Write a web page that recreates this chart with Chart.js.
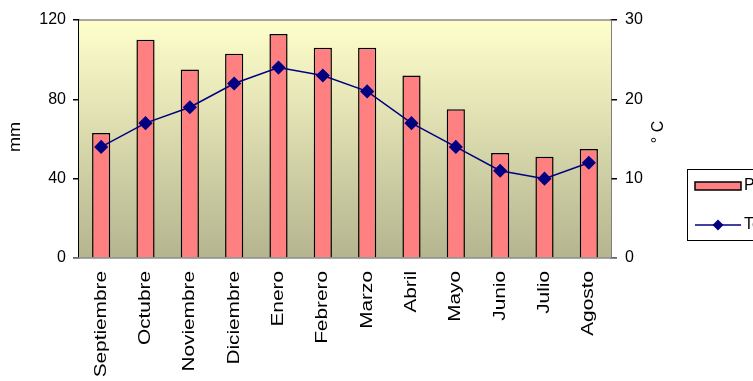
<!DOCTYPE html>
<html>
<head>
<meta charset="utf-8">
<script src="https://cdn.jsdelivr.net/npm/chart.js@4/dist/chart.umd.min.js"></script>
<style>
  html, body { margin: 0; padding: 0; background: #fff; overflow: hidden; }
  #wrap { position: relative; width: 753px; height: 381px; }
</style>
</head>
<body>
<div id="wrap"><canvas id="climaChart"></canvas></div>
<script>
const meses = ['Septiembre', 'Octubre', 'Noviembre', 'Diciembre', 'Enero', 'Febrero',
               'Marzo', 'Abril', 'Mayo', 'Junio', 'Julio', 'Agosto'];
const precipitacion = [63, 110, 95, 103, 113, 106, 106, 92, 75, 53, 51, 55];
const temperatura = [14, 17, 19, 22, 24, 23, 21, 17, 14, 11, 10, 12];
const ticksMm = [0, 40, 80, 120];
const ticksC = [0, 10, 20, 30];

const fuente = '"Liberation Sans", Arial, sans-serif';

// texto girado 90° (se lee de abajo a arriba), estirado a lo largo
function textoVertical(ctx, t, x, y, align, estirar) {
    ctx.save();
    ctx.translate(x, y);
    ctx.rotate(-Math.PI / 2);
    ctx.scale(estirar, 1);
    ctx.textAlign = align;
    ctx.textBaseline = 'middle';
    ctx.fillText(t, 0, 0);
    ctx.restore();
}

// fondo degradado del área de trazado y bordes grises arriba/abajo
const fondoPlugin = {
    id: 'fondo',
    beforeDatasetsDraw(chart) {
        const { ctx, chartArea: a } = chart;
        const g = ctx.createLinearGradient(0, a.top, 0, a.bottom);
        g.addColorStop(0, '#ffffcc');
        g.addColorStop(1, '#b4b48f');
        ctx.save();
        ctx.fillStyle = g;
        ctx.fillRect(a.left, a.top, a.right - a.left, a.bottom - a.top);
        ctx.strokeStyle = '#8c8c8c';
        ctx.lineWidth = 1.5;
        ctx.beginPath();
        ctx.moveTo(a.left, a.top);
        ctx.lineTo(a.right, a.top);
        ctx.moveTo(a.left - 6, a.bottom);
        ctx.lineTo(a.right + 6, a.bottom);
        ctx.stroke();
        ctx.restore();
    }
};

// etiquetas de meses, títulos de ejes y leyenda
const extrasPlugin = {
    id: 'extras',
    afterDraw(chart) {
        const { ctx } = chart;
        const x = chart.scales.x;
        ctx.save();
        ctx.fillStyle = '#000';
        ctx.font = '16px ' + fuente;

        meses.forEach((m, i) => {
            textoVertical(ctx, m, x.getPixelForValue(i), chart.chartArea.bottom + 13, 'right', 1.3);
        });

        textoVertical(ctx, 'mm', 16, 137, 'center', 1.13);
        textoVertical(ctx, '° C', 659, 132, 'center', 1);

        // caja de la leyenda
        ctx.strokeStyle = '#000';
        ctx.lineWidth = 1;
        ctx.strokeRect(687.5, 169.5, 120, 71);

        const dsBar = chart.data.datasets[0];
        const dsLine = chart.data.datasets[1];
        ctx.fillStyle = dsBar.backgroundColor;
        ctx.fillRect(695, 182, 46, 8);
        ctx.lineWidth = 1.5;
        ctx.strokeStyle = dsBar.borderColor;
        ctx.strokeRect(695, 182, 46, 8);

        ctx.strokeStyle = dsLine.borderColor;
        ctx.lineWidth = 1.5;
        ctx.beginPath();
        ctx.moveTo(695, 225);
        ctx.lineTo(741, 225);
        ctx.stroke();
        ctx.fillStyle = dsLine.pointBackgroundColor;
        ctx.beginPath();
        ctx.moveTo(718, 219.5);
        ctx.lineTo(723.5, 225);
        ctx.lineTo(718, 230.5);
        ctx.lineTo(712.5, 225);
        ctx.closePath();
        ctx.fill();

        ctx.fillStyle = '#000';
        ctx.textAlign = 'left';
        ctx.textBaseline = 'middle';
        ctx.fillText(dsBar.label, 744, 186);
        ctx.fillText(dsLine.label, 744, 225);
        ctx.restore();
    }
};

new Chart(document.getElementById('climaChart'), {
    data: {
        labels: meses,
        datasets: [
            {
                type: 'bar',
                label: 'Precipitación',
                data: precipitacion,
                yAxisID: 'yMm',
                backgroundColor: '#ff8080',
                borderColor: '#000000',
                borderWidth: 1.5,
                barPercentage: 0.41,
                categoryPercentage: 1,
                order: 1
            },
            {
                type: 'line',
                label: 'Temperatura',
                data: temperatura,
                yAxisID: 'yC',
                borderColor: '#000080',
                borderWidth: 1.5,
                pointStyle: 'rectRot',
                pointRadius: 6,
                pointBackgroundColor: '#000080',
                pointBorderColor: '#000080',
                tension: 0,
                order: 0
            }
        ]
    },
    options: {
        responsive: true,
        maintainAspectRatio: false,
        animation: false,
        layout: { padding: { top: 20, left: 0, right: 0, bottom: 0 } },
        plugins: {
            legend: { display: false },
            tooltip: { enabled: false }
        },
        scales: {
            x: {
                grid: { display: false, drawTicks: false },
                border: { display: false },
                ticks: { display: false },
                afterFit(scale) { scale.height = 123; }
            },
            yMm: {
                position: 'left',
                min: 0,
                max: 120,
                afterBuildTicks(scale) { scale.ticks = ticksMm.map(v => ({ value: v })); },
                grid: { drawOnChartArea: false, color: '#000', tickLength: 6, lineWidth: 1.5 },
                border: { color: '#000', width: 1.5 },
                ticks: { color: '#000', font: { family: fuente, size: 16 }, padding: 7 },
                afterFit(scale) { scale.width = 79; }
            },
            yC: {
                position: 'right',
                min: 0,
                max: 30,
                afterBuildTicks(scale) { scale.ticks = ticksC.map(v => ({ value: v })); },
                grid: { drawOnChartArea: false, color: '#000', tickLength: 6, lineWidth: 1.5 },
                border: { color: '#000', width: 1.5 },
                ticks: { color: '#000', font: { family: fuente, size: 16 }, padding: 8 },
                afterFit(scale) { scale.width = 142; }
            }
        }
    },
    plugins: [fondoPlugin, extrasPlugin]
});
</script>
</body>
</html>
